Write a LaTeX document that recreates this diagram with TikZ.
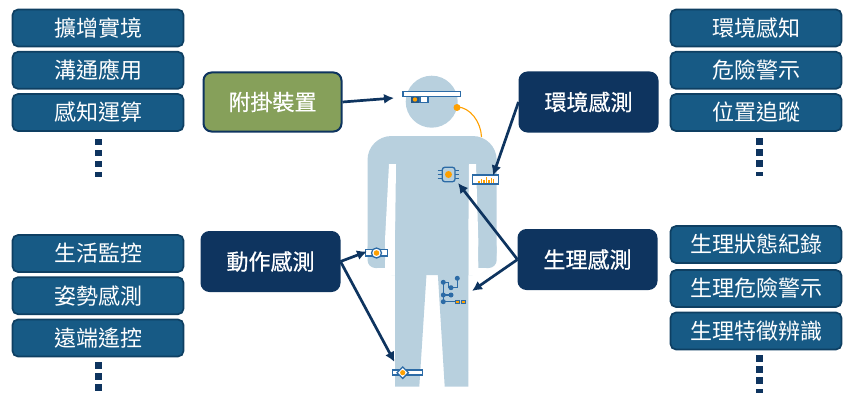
\documentclass[tikz,border=0pt]{standalone}
\usepackage{fontspec}
\setmainfont{Noto Sans CJK TC}
\newfontfamily\cjkbold[FakeBold=0.6]{Noto Sans CJK TC}
\usetikzlibrary{arrows.meta,shapes.geometric}
\definecolor{navy}{HTML}{0E345F}
\definecolor{listfill}{HTML}{175A85}
\definecolor{listline}{HTML}{0E3F62}
\definecolor{olive}{HTML}{86A05A}
\definecolor{bodyblue}{HTML}{B8D0DE}
\definecolor{amber}{HTML}{FFA000}
\definecolor{devblue}{HTML}{2C6BA6}
\tikzset{
  x=1pt,y=-1pt,
  listbox/.style={draw=listline,line width=1.7pt,fill=listfill,rounded corners=5.5pt,text=white,
    font=\fontsize{22}{24}\selectfont,inner sep=0pt,anchor=center,minimum width=171pt,minimum height=37pt},
  mainbox/.style={draw=navy,line width=2pt,fill=navy,rounded corners=8pt,text=white,
    font=\cjkbold\fontsize{22}{24}\selectfont,inner sep=0pt,anchor=center,minimum width=138pt,minimum height=59pt},
  greenbox/.style={mainbox,fill=olive},
  link/.style={draw=navy,line width=2.7pt,-{Latex[length=10pt,width=10pt]},shorten <=0pt},
  dotmark/.style={fill=navy,draw=none},
  device/.style={draw=devblue,line width=1.3pt,fill=white},
  pad/.style={fill=devblue,draw=none,circle,inner sep=0pt,minimum size=5pt},
}
\newcommand{\vdotsat}[2]{%
  \foreach \k in {0,1,2}{\fill[dotmark] (#1-3.3,#2+11*\k) rectangle (#1+3.3,#2+11*\k+6.6);}
  \fill[dotmark] (#1-3.3,#2+33.5) rectangle (#1+3.3,#2+38);}
\begin{document}
\begin{tikzpicture}
\useasboundingbox (0,0) rectangle (843,396);

% body silhouette
\fill[bodyblue] (431.7,101.7) circle[radius=26];
\fill[bodyblue,rounded corners=24pt] (367.5,275) -- (367.5,136) -- (496.7,136) -- (496.7,275) -- cycle;
\fill[white] (389,164) -- (396,164) -- (395,240) -- (395,275) -- (360,275) -- (360,268) -- (385,268) -- (385,240) -- cycle;
\fill[white] (469,164) -- (476,164) -- (478.3,240) -- (478.3,268) -- (500,268) -- (500,275) -- (468.3,275) -- (468.3,240) -- cycle;
\fill[bodyblue,rounded corners=8pt] (367.5,240) -- (367.5,268) -- (385,268) -- (385,240) -- cycle;
\fill[bodyblue,rounded corners=8pt] (478.3,240) -- (478.3,268) -- (496.7,268) -- (496.7,240) -- cycle;
\fill[bodyblue] (395,230) -- (395,386.7) -- (419.3,386.7) -- (427.7,255.7) -- (436.7,255.7) -- (444.7,386.7) -- (468.3,386.7) -- (468.3,230) -- cycle;

% head-worn unit and its cable
\draw[amber,line width=1.1pt] (457,107) .. controls (470,107) and (481,122) .. (481.5,137);
\fill[amber] (457,107.5) circle[radius=3.5];
\draw[device] (403,91.3) rectangle (460.5,96.7);
\fill[devblue!80!black] (411,96.7) rectangle (420,102.5);
\draw[device] (420,96.7) rectangle (428,102.5);
\fill[amber] (415,99.5) circle[radius=2.2];

% chest chip
\foreach \r in {170.3,174.3,178.3}{
  \draw[devblue,line width=1.6pt] (437.7,\r) -- (442.3,\r);
  \draw[devblue,line width=1.6pt] (455,\r) -- (459.3,\r);
}
\draw[device,fill=bodyblue,rounded corners=2.5pt] (442.3,167.3) rectangle (455,181.7);
\fill[amber] (448.5,174.5) circle[radius=3.5];

% forearm sensor
\draw[device] (472.5,175) rectangle (498.3,184);
\foreach \h/\px in {2/479,4/481.5,3/484,6/486.5,3/489,5/491.5,4/493.5}{
  \draw[amber,line width=1.1pt] (\px,182.5) -- (\px,182.5-\h);
}

% wrist band
\draw[device] (365.7,249.3) rectangle (387.7,256);
\draw[device] (376.5,253) circle[radius=5];
\fill[amber] (376.5,253) circle[radius=2.8];

% thigh circuit
\draw[devblue,line width=1.2pt]
  (443.3,282.3) -- (443.3,301.7) -- (456,301.7)
  (443.3,282.3) -- (448.5,282.3) -- (448.5,287.7) -- (457.3,287.7) -- (457.3,278.3)
  (443.3,295) -- (451,295);
\foreach \p in {(443.3,282.3),(457.3,278.3),(451,287.7),(443.3,295),(451,295),(443.3,301.7)}{
  \node[pad] at \p {};
}
\foreach \px in {457,463.3}{
  \draw[devblue,line width=1pt,fill=amber] (\px-2,300) rectangle (\px+2,303.4);
}

% knee band
\draw[device] (392.7,370) rectangle (422.7,375);
\node[diamond,device,inner sep=0pt,minimum size=12pt] (kneejoint) at (402.7,372.7) {};
\fill[amber] (402.7,372.7) circle[radius=2.6];

% anchors for the connectors
\coordinate (glassend) at (394,98);
\coordinate (armend) at (493,175.5);
\coordinate (chipend) at (458,183);
\coordinate (thighend) at (472,291);
\coordinate (wristend) at (367,251.5);
\coordinate (kneeend) at (394.5,362);

% sensing categories
\node[greenbox] (attach) at (272.5,102) {附掛裝置};
\node[mainbox] (environ) at (588.5,102) {環境感測};
\node[mainbox] (motion) at (270.5,261.5) {動作感測};
\node[mainbox] (physio) at (587.5,259.5) {生理感測};

\draw[link] (attach.east) -- (glassend);
\draw[link] (environ.west) -- (armend);
\draw[link] (physio.west) -- (chipend);
\draw[link] (physio.west) -- (thighend);
\draw[link] (motion.east) -- (wristend);
\draw[link] (motion.east) -- (kneeend);

% application lists
\node[listbox] (a1) at (98,28) {擴增實境};
\node[listbox] (a2) at (98,70.3) {溝通應用};
\node[listbox] (a3) at (98,112.5) {感知運算};
\node[listbox] (b1) at (98,253.5) {生活監控};
\node[listbox] (b2) at (98,295.7) {姿勢感測};
\node[listbox] (b3) at (98,338) {遠端遙控};
\node[listbox] (c1) at (756,28) {環境感知};
\node[listbox] (c2) at (756,70.3) {危險警示};
\node[listbox] (c3) at (756,112.5) {位置追蹤};
\node[listbox] (d1) at (756,244.5) {生理狀態紀錄};
\node[listbox] (d2) at (756,288.5) {生理危險警示};
\node[listbox] (d3) at (756,331) {生理特徵辨識};

\vdotsat{98.3}{138.5}
\vdotsat{98.3}{362}
\vdotsat{759.5}{138}
\vdotsat{759.5}{355}
\end{tikzpicture}
\end{document}
